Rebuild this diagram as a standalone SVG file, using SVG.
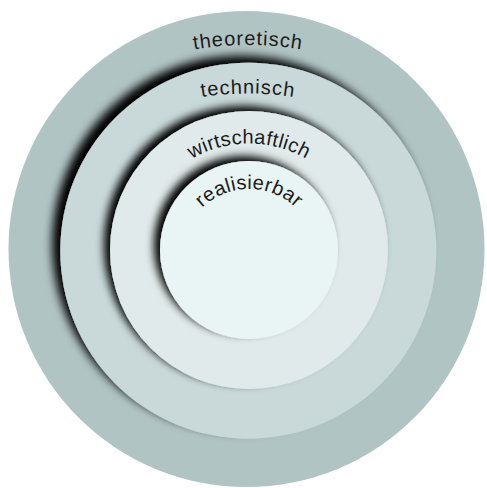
<svg xmlns="http://www.w3.org/2000/svg" width="487" height="488" viewBox="0 0 487 488">
  <defs>
    <filter id="shBig" x="-15%" y="-15%" width="130%" height="130%">
      <feDropShadow dx="-8" dy="-7" stdDeviation="5" flood-color="#000" flood-opacity="1"/>
    </filter>
    <filter id="shSmall" x="-15%" y="-15%" width="130%" height="130%">
      <feDropShadow dx="-6" dy="-5" stdDeviation="4" flood-color="#000" flood-opacity="1"/>
    </filter>
    <path id="arcTheo" d="M -82,375 A 330 330 0 0 1 578,375"/>
    <path id="arcTech" d="M -52,393.5 A 300 300 0 0 1 548,393.5"/>
    <path id="arcWirt" d="M 134,258.5 A 115 115 0 0 1 364,258.5"/>
    <path id="arcReal" d="M 181,257 A 68 68 0 0 1 317,257"/>
  </defs>
  <style>
    .lbl { font-family: "Liberation Sans", Arial, sans-serif; font-size: 20px; letter-spacing: 1px; fill: #1c1c1c; }
    .tight { letter-spacing: 0.4px; }
  </style>
  <rect width="487" height="488" fill="#ffffff"/>
  <g id="theoretisch">
    <circle cx="246.5" cy="249" r="238" fill="#b1c4c4"/>
    <text class="lbl"><textPath href="#arcTheo" startOffset="50%" text-anchor="middle">theoretisch</textPath></text>
  </g>
  <g id="technisch">
    <circle cx="248.3" cy="250.7" r="188" fill="#c9d9d9" filter="url(#shBig)"/>
    <text class="lbl"><textPath href="#arcTech" startOffset="50%" text-anchor="middle">technisch</textPath></text>
  </g>
  <g id="wirtschaftlich">
    <circle cx="249" cy="250" r="139" fill="#e1eaea" filter="url(#shSmall)"/>
    <text class="lbl tight"><textPath href="#arcWirt" startOffset="50%" text-anchor="middle">wirtschaftlich</textPath></text>
  </g>
  <g id="realisierbar">
    <circle cx="249" cy="250" r="89" fill="#e9f4f4" filter="url(#shSmall)"/>
    <text class="lbl tight"><textPath href="#arcReal" startOffset="50%" text-anchor="middle">realisierbar</textPath></text>
  </g>
  <g id="connectors"/>
</svg>
